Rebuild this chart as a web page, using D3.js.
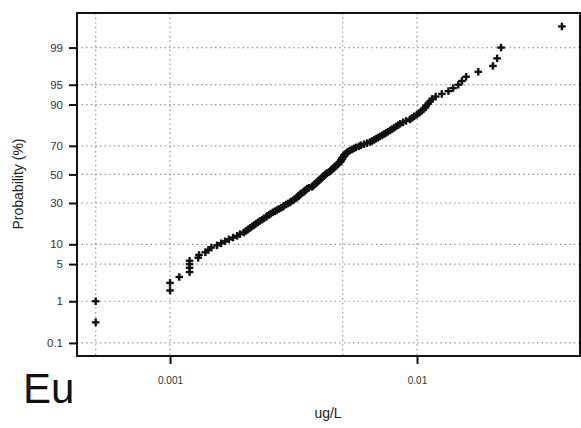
<!DOCTYPE html>
<html><head><meta charset="utf-8">
<script src="https://cdn.jsdelivr.net/npm/d3@7"></script>
<style>body{margin:0;background:#fff;} svg{display:block;}</style>
</head><body>
<script>
// Sorted concentrations (ug/L) of Eu, one value per sample (n = 150)
const euValues = [
0.0005,0.0005,0.001,0.001,0.00109,0.0012,0.0012,0.0012,0.0012,0.0013,
0.00131,0.00139,0.00143,0.00147,0.00155,0.00161,0.00167,0.00173,0.0018,0.00187,
0.00192,0.00199,0.00203,0.00207,0.00211,0.00215,0.00219,0.00223,0.00227,0.00231,
0.00236,0.0024,0.00245,0.00247,0.00252,0.00256,0.00261,0.00266,0.00271,0.00276,
0.00282,0.00287,0.00289,0.00295,0.003,0.00306,0.00309,0.00315,0.00318,0.00324,
0.00327,0.0033,0.00333,0.00336,0.00339,0.00346,0.00349,0.00352,0.00355,0.00359,
0.00365,0.00376,0.00379,0.00383,0.00386,0.0039,0.00394,0.00397,0.00401,0.00405,
0.00409,0.00413,0.00416,0.0042,0.00424,0.00428,0.00432,0.0044,0.00445,0.00449,
0.00453,0.00457,0.00461,0.00466,0.0047,0.00474,0.00479,0.00483,0.00488,0.00492,
0.00492,0.00497,0.00497,0.00502,0.00506,0.00506,0.00511,0.00516,0.00521,0.00526,
0.00536,0.00546,0.00556,0.00566,0.00582,0.00593,0.0061,0.00627,0.00645,0.00657,
0.0067,0.00682,0.00695,0.00708,0.00722,0.00735,0.00749,0.00763,0.00778,0.00792,
0.00807,0.00822,0.00838,0.00854,0.00878,0.00903,0.00937,0.00955,0.00973,0.01,
0.0102,0.0104,0.0106,0.0108,0.0109,0.0111,0.0113,0.0115,0.0119,0.0126,
0.0134,0.014,0.0147,0.0152,0.0158,0.0177,0.0203,0.0211,0.0219,0.0386
];
const yTickProbs = [0.1, 1, 5, 10, 30, 50, 70, 90, 95, 99];
const yTickLabels = ["0.1", "1", "5", "10", "30", "50", "70", "90", "95", "99"];
const xTickValues = [0.001, 0.01];
const xTickLabels = ["0.001", "0.01"];
const xGridValues = [0.0005, 0.001, 0.005, 0.01];
const elementName = "Eu";
const xTitle = "ug/L";
const yTitle = "Probability (%)";

// inverse standard normal CDF (Acklam)
function qnorm(p) {
  const a = [-3.969683028665376e+01, 2.209460984245205e+02, -2.759285104469687e+02, 1.383577518672690e+02, -3.066479806614716e+01, 2.506628277459239e+00];
  const b = [-5.447609879822406e+01, 1.615858368580409e+02, -1.556989798598866e+02, 6.680131188771972e+01, -1.328068155288572e+01];
  const c = [-7.784894002430293e-03, -3.223964580411365e-01, -2.400758277161838e+00, -2.549732539343734e+00, 4.374664141464968e+00, 2.938163982698783e+00];
  const d = [7.784695709041462e-03, 3.224671290700398e-01, 2.445134137142996e+00, 3.754408661907416e+00];
  const pl = 0.02425, ph = 1 - pl;
  let q, r;
  if (p < pl) {
    q = Math.sqrt(-2 * Math.log(p));
    return (((((c[0]*q+c[1])*q+c[2])*q+c[3])*q+c[4])*q+c[5]) / ((((d[0]*q+d[1])*q+d[2])*q+d[3])*q+1);
  } else if (p <= ph) {
    q = p - 0.5; r = q*q;
    return (((((a[0]*r+a[1])*r+a[2])*r+a[3])*r+a[4])*r+a[5])*q / (((((b[0]*r+b[1])*r+b[2])*r+b[3])*r+b[4])*r+1);
  } else {
    q = Math.sqrt(-2 * Math.log(1 - p));
    return -(((((c[0]*q+c[1])*q+c[2])*q+c[3])*q+c[4])*q+c[5]) / ((((d[0]*q+d[1])*q+d[2])*q+d[3])*q+1);
  }
}

const W = 581, H = 428;
const L = 77, R = 580, T = 13, B = 356;
const svg = d3.select("body").append("svg").attr("width", W).attr("height", H);

const x = d3.scaleLog().domain([0.00042, 0.0457]).range([L, R]);
const y = d3.scaleLinear().domain([-3.33, 2.96]).range([B, T]);

const n = euValues.length;
const pts = euValues.map((v, i) => ({v, z: qnorm((i + 0.5) / n)}));

// grid
const grid = svg.append("g").attr("stroke", "#8e8e8e").attr("stroke-width", 1.2)
  .attr("stroke-dasharray", "1.4,3.2").attr("fill", "none");
grid.selectAll("line.h").data(yTickProbs).join("line").attr("class", "h")
  .attr("x1", L).attr("x2", R).attr("y1", p => y(qnorm(p/100))).attr("y2", p => y(qnorm(p/100)));
grid.selectAll("line.v").data(xGridValues).join("line").attr("class", "v")
  .attr("y1", T).attr("y2", B).attr("x1", v => x(v)).attr("x2", v => x(v));

// axes
const yAxis = d3.axisLeft(y)
  .tickValues(yTickProbs.map(p => qnorm(p/100)))
  .tickFormat((d, i) => yTickLabels[i]).tickSize(8).tickPadding(6);
const gy = svg.append("g").attr("transform", `translate(${L},0)`).call(yAxis);
gy.select(".domain").remove();
gy.selectAll(".tick line").attr("stroke", "#111").attr("stroke-width", 2);
gy.selectAll(".tick text").attr("fill", "#333").attr("font-family", "Liberation Sans, Arial, sans-serif").attr("font-size", 11.5);

const xAxis = d3.axisBottom(x).tickValues(xTickValues)
  .tickFormat((d, i) => xTickLabels[i]).tickSize(8).tickPadding(13);
const gx = svg.append("g").attr("transform", `translate(0,${B})`).call(xAxis);
gx.select(".domain").remove();
gx.selectAll(".tick line").attr("stroke", "#111").attr("stroke-width", 2);
gx.selectAll(".tick text").attr("fill", "#333").attr("font-family", "Liberation Sans, Arial, sans-serif").attr("font-size", 10);

// frame
svg.append("rect").attr("x", L).attr("y", T).attr("width", R - L).attr("height", B - T)
  .attr("fill", "none").attr("stroke", "#111").attr("stroke-width", 2);

// points (plus markers)
const s = 3.8;
const mk = svg.append("g").attr("stroke", "#111").attr("stroke-width", 2.4);
const gp = mk.selectAll("g").data(pts).join("g")
  .attr("transform", d => `translate(${x(d.v)},${y(d.z)})`);
gp.append("line").attr("x1", -s).attr("x2", s).attr("y1", 0).attr("y2", 0);
gp.append("line").attr("y1", -s).attr("y2", s).attr("x1", 0).attr("x2", 0);

// titles
svg.append("text").attr("x", 328).attr("y", 418).attr("text-anchor", "middle")
  .attr("font-family", "Liberation Sans, Arial, sans-serif").attr("font-size", 14).attr("fill", "#222").text(xTitle);
svg.append("text").attr("transform", "translate(23,184) rotate(-90)").attr("text-anchor", "middle")
  .attr("font-family", "Liberation Sans, Arial, sans-serif").attr("font-size", 14).attr("fill", "#222").text(yTitle);
svg.append("text").attr("x", 23).attr("y", 403)
  .attr("font-family", "Liberation Sans, Arial, sans-serif").attr("font-size", 42).attr("fill", "#111").text(elementName);
</script>
</body></html>
